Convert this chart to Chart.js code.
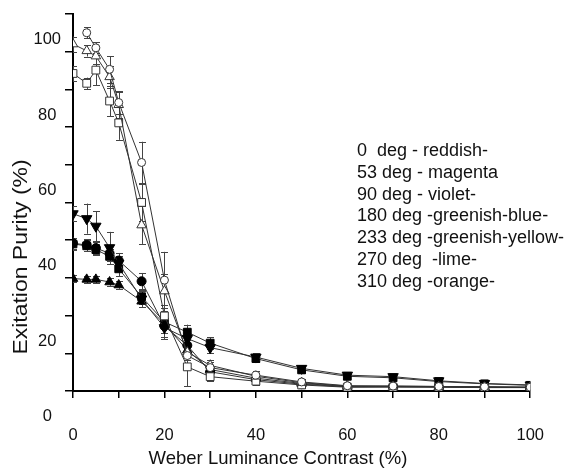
<!DOCTYPE html>
<html><head><meta charset="utf-8">
<script src="https://cdn.jsdelivr.net/npm/chart.js@4.4.1/dist/chart.umd.min.js"></script>
<style>html,body{margin:0;padding:0;background:#fff}#wrap{width:572px;height:468px;position:relative}</style>
</head><body><div id="wrap"><canvas id="c"></canvas></div>
<script>
// ---- data ----
const X_VALUES = [0, 3, 5, 8, 10, 15, 20, 25, 30, 40, 50, 60, 70, 80, 90, 100];
const S_OPEN_CIRCLE   = [null, 105.0, 101.0, 95.3, 86.5, 70.6, 39.4, 19.4, 16.2, 14.2, 12.4, 11.4, 11.3, 11.2, 11.1, 11.0];
const S_OPEN_TRIANGLE = [102.0, 100.2, 98.8, 93.3, 85.9, 54.0, 36.5, 20.3, 16.8, 13.9, 12.2, 11.3, 11.2, 11.1, 11.0, 11.0];
const S_OPEN_SQUARE   = [94.2, 91.6, 95.1, 86.9, 81.1, 60.0, 29.9, 16.4, 13.8, 12.6, 11.6, 11.0, 11.0, 11.0, 10.9, 10.9];
const S_FILL_INVTRI   = [57.0, 55.7, 53.7, 48.0, 43.9, 34.4, 26.8, 23.9, 21.5, 19.0, 16.0, 14.2, 13.8, 12.7, 12.0, 11.6];
const S_FILL_CIRCLE   = [49.2, 48.7, 47.9, 46.5, 44.6, 39.1, 27.2, 22.1, 15.1, 13.0, 11.8, 11.1, 11.2, 11.1, 11.0, 10.9];
const S_FILL_SQUARE   = [49.0, 48.5, 47.5, 45.7, 42.4, 35.0, 28.3, 25.6, 22.7, 18.6, 15.6, 13.9, 13.5, 12.5, 11.9, 11.5];
const S_FILL_TRIANGLE = [39.8, 39.6, 39.6, 38.9, 38.1, 33.8, 27.8, 20.8, 15.7, 13.4, 12.0, 11.2, 11.3, 11.2, 11.1, 11.0];

const E_OPEN_CIRCLE   = [0, 1.5, 1.5, 3.5, 3.0, 5.5, 7.5, 2.5, 1.5, 1.0, 0.8, 0.5, 0.5, 0.5, 0.5, 0.5];
const E_OPEN_TRIANGLE = [2.0, 1.5, 2.0, 3.0, 3.5, 5.0, 4.5, 2.0, 1.5, 1.0, 0.8, 0.5, 0.5, 0.5, 0.5, 0.5];
const E_OPEN_SQUARE   = [2.0, 1.5, 4.0, 4.0, 4.5, 5.0, 3.0, 5.2, 1.2, 1.0, 0.8, 0.5, 0.5, 0.5, 0.5, 0.5];
const E_FILL_INVTRI   = [2.0, 4.0, 4.0, 4.2, 2.0, 2.0, 3.0, 2.0, 1.5, 1.0, 0.8, 0.6, 0.6, 0.5, 0.5, 0.5];
const E_FILL_CIRCLE   = [1.5, 1.5, 1.5, 2.0, 2.0, 2.2, 3.0, 2.0, 1.5, 1.0, 0.8, 0.5, 0.5, 0.5, 0.5, 0.5];
const E_FILL_SQUARE   = [1.5, 1.5, 1.5, 2.0, 2.0, 2.0, 3.0, 2.0, 1.5, 1.0, 0.8, 0.6, 0.6, 0.5, 0.5, 0.5];
const E_FILL_TRIANGLE = [1.0, 1.0, 1.0, 1.0, 1.0, 1.5, 2.5, 1.5, 1.0, 0.8, 0.6, 0.5, 0.5, 0.5, 0.5, 0.5];

const SERIES_LABELS = [
  '0  deg - reddish-',
  '53 deg - magenta',
  '90 deg - violet-',
  '180 deg -greenish-blue-',
  '233 deg -greenish-yellow-',
  '270 deg  -lime-',
  '310 deg -orange-'
];
const X_TICK_VALUES = [0, 10, 20, 30, 40, 50, 60, 70, 80, 90, 100];
const X_TICK_LABELS = ['0', '', '20', '', '40', '', '60', '', '80', '', '100'];
const Y_TICK_VALUES = [0, 10, 20, 30, 40, 50, 60, 70, 80, 90, 100, 110];
const Y_TICK_LABELS = ['0', '', '20', '', '40', '', '60', '', '80', '', '100', ''];
const X_TITLE = 'Weber Luminance Contrast (%)';
const Y_TITLE = 'Exitation Purity (%)';

// ---- chart ----
const FONT = "'Liberation Sans', Arial, sans-serif";
const LINE = '#333';

function mk(label, ys, errs, style) {
  return Object.assign({
    label: label,
    data: X_VALUES.map((x, i) => ({x: x, y: ys[i]})),
    errors: errs,
    borderColor: LINE,
    borderWidth: 1,
    pointBorderColor: LINE,
    pointBorderWidth: 1,
    tension: 0,
    fill: false,
    clip: 0
  }, style);
}

const datasets = [
  mk(SERIES_LABELS[0], S_OPEN_CIRCLE, E_OPEN_CIRCLE, {pointStyle: 'circle', pointRadius: 4, pointBackgroundColor: '#fff'}),
  mk(SERIES_LABELS[1], S_OPEN_TRIANGLE, E_OPEN_TRIANGLE, {pointStyle: 'triangle', pointRadius: 5.5, pointBackgroundColor: '#fff'}),
  mk(SERIES_LABELS[2], S_OPEN_SQUARE, E_OPEN_SQUARE, {pointStyle: 'rect', pointRadius: 5.5, pointBackgroundColor: '#fff'}),
  mk(SERIES_LABELS[3], S_FILL_INVTRI, E_FILL_INVTRI, {pointStyle: 'triangle', pointRotation: 180, pointRadius: 6, pointBackgroundColor: '#000', pointBorderColor: '#000'}),
  mk(SERIES_LABELS[4], S_FILL_CIRCLE, E_FILL_CIRCLE, {pointStyle: 'circle', pointRadius: 4.5, pointBackgroundColor: '#000', pointBorderColor: '#000'}),
  mk(SERIES_LABELS[5], S_FILL_SQUARE, E_FILL_SQUARE, {pointStyle: 'rect', pointRadius: 5.5, pointBackgroundColor: '#000', pointBorderColor: '#000'}),
  mk(SERIES_LABELS[6], S_FILL_TRIANGLE, E_FILL_TRIANGLE, {pointStyle: 'triangle', pointRadius: 5.5, pointBackgroundColor: '#000', pointBorderColor: '#000'})
];

const errorBars = {
  id: 'errorBars',
  beforeDatasetsDraw(chart) {
    const ctx = chart.ctx, xs = chart.scales.x, ys = chart.scales.y, a = chart.chartArea;
    ctx.save();
    ctx.beginPath();
    ctx.rect(a.left, a.top, a.right - a.left, a.bottom - a.top);
    ctx.clip();
    ctx.strokeStyle = '#444';
    ctx.lineWidth = 1;
    chart.data.datasets.forEach(ds => {
      ds.data.forEach((p, i) => {
        const e = ds.errors[i];
        if (p.y == null || !e) return;
        const px = Math.round(xs.getPixelForValue(p.x)) + 0.5;
        const y1 = ys.getPixelForValue(p.y + e), y2 = ys.getPixelForValue(p.y - e);
        ctx.beginPath();
        ctx.moveTo(px, y1); ctx.lineTo(px, y2);
        ctx.moveTo(px - 3.5, Math.round(y1) + 0.5); ctx.lineTo(px + 3.5, Math.round(y1) + 0.5);
        ctx.moveTo(px - 3.5, Math.round(y2) + 0.5); ctx.lineTo(px + 3.5, Math.round(y2) + 0.5);
        ctx.stroke();
      });
    });
    ctx.restore();
  }
};

const texts = {
  id: 'texts',
  afterDraw(chart) {
    const ctx = chart.ctx;
    ctx.save();
    ctx.fillStyle = '#111';
    ctx.textBaseline = 'middle';
    // legend text
    ctx.font = '18px ' + FONT;
    ctx.textAlign = 'left';
    chart.data.datasets.forEach((ds, i) => {
      ctx.fillText(ds.label, 357, 151 + i * 21.8);
    });
    // x title
    ctx.font = '18.5px ' + FONT;
    ctx.textAlign = 'center';
    ctx.fillText(X_TITLE, 278, 459);
    // y title
    ctx.translate(21, 257);
    ctx.rotate(-Math.PI / 2);
    ctx.scale(1.12, 1);
    ctx.font = '20.5px ' + FONT;
    ctx.fillText(Y_TITLE, 0, 0);
    ctx.restore();
  }
};

new Chart(document.getElementById('c'), {
  type: 'line',
  data: {datasets: datasets},
  options: {
    responsive: true,
    maintainAspectRatio: false,
    animation: false,
    layout: {padding: {top: 10, right: 31, left: 0, bottom: 0}},
    plugins: {legend: {display: false}, tooltip: {enabled: false}},
    scales: {
      x: {
        type: 'linear', min: 0, max: 100,
        afterBuildTicks(s) { s.ticks = X_TICK_VALUES.map(v => ({value: v})); },
        afterFit(s) { s.height = 77; },
        border: {display: true, color: '#000', width: 2},
        grid: {display: true, drawOnChartArea: false, drawTicks: true, tickLength: 7, color: '#000', lineWidth: 1.5},
        ticks: {
          autoSkip: false, maxRotation: 0, padding: 28, color: '#111',
          font: {family: FONT, size: 16.5},
          callback: (v, i) => X_TICK_LABELS[i]
        }
      },
      y: {
        type: 'linear', min: 10, max: 110,
        afterBuildTicks(s) { s.ticks = Y_TICK_VALUES.map(v => ({value: v})); },
        afterFit(s) { s.width = 73; },
        border: {display: true, color: '#000', width: 2},
        grid: {
          display: true, drawOnChartArea: false, drawTicks: true, tickLength: 8, lineWidth: 1.5,
          color: '#000',
          tickColor: (c) => (c.tick && c.tick.value === 0) ? 'rgba(0,0,0,0)' : '#000'
        },
        ticks: {
          autoSkip: false, padding: 4, color: '#111', crossAlign: 'center', labelOffset: -12,
          font: {family: FONT, size: 16.5},
          callback: (v, i) => Y_TICK_LABELS[i]
        }
      }
    }
  },
  plugins: [errorBars, texts]
});
</script>
</body></html>
